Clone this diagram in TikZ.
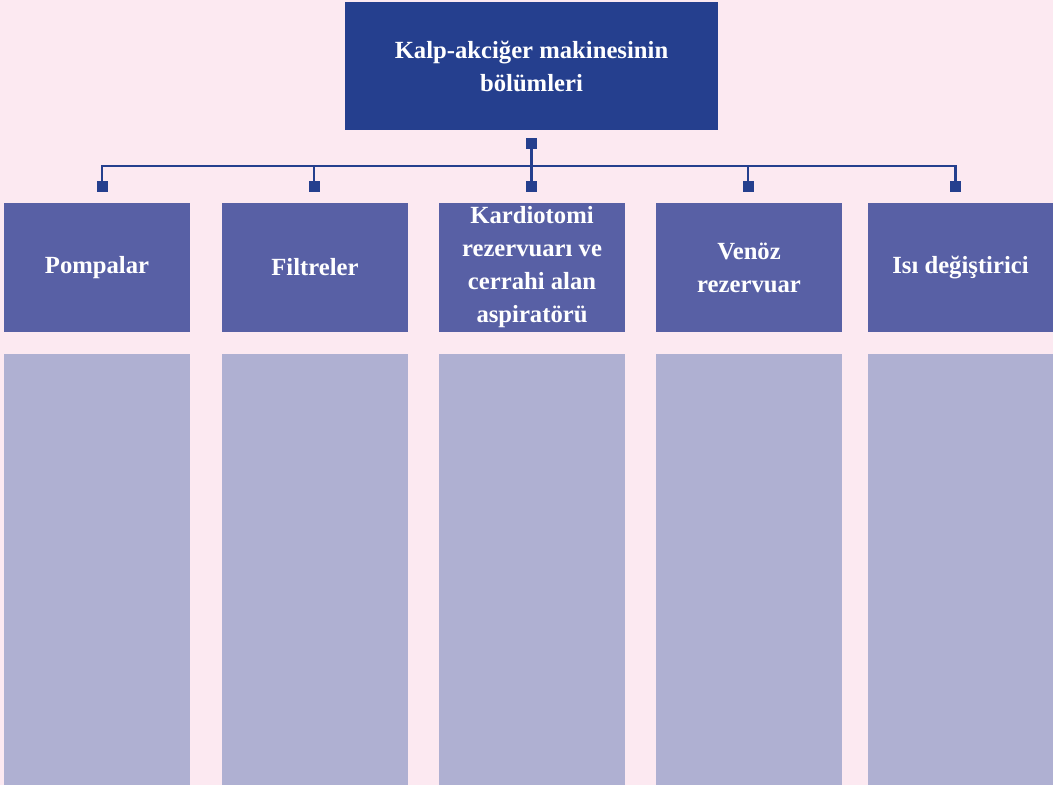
\documentclass[tikz,border=0pt]{standalone}
\usepackage{fontspec}
\setmainfont{Liberation Serif}

\definecolor{zemin}{RGB}{252,233,241}
\definecolor{koyu}{RGB}{37,63,142}
\definecolor{orta}{RGB}{88,96,165}
\definecolor{acik}{RGB}{175,176,210}

\tikzset{
  anakutu/.style={fill=koyu,text=white,minimum width=279.75pt,minimum height=96pt,
    inner sep=0pt,align=center,font=\fontsize{18.5}{24.75}\selectfont\bfseries},
  baslik/.style={fill=orta,text=white,minimum width=139.5pt,minimum height=96.75pt,
    inner sep=0pt,align=center,font=\fontsize{18.5}{24.75}\selectfont\bfseries},
  govde/.style={fill=acik,minimum width=139.5pt,minimum height=323.25pt,inner sep=0pt},
  kare/.style={fill=koyu,minimum size=8.25pt,inner sep=0pt},
  hat/.style={draw=koyu,line width=1.6pt}
}

\begin{document}
\begin{tikzpicture}[x=0.75pt,y=-0.75pt]
                % ===== zemin =====
                \fill[zemin] (0,0) rectangle (1053,785);
                \useasboundingbox (0,0) rectangle (1053,785);

                % ===== ana kutu =====
                \node[anakutu] (ana) at (531.5,66) {Kalp-akciğer makinesinin\\bölümleri};

                % ===== bölümler =====
                \node[baslik] (b1) at (97,267.5) {Pompalar};
                \node[baslik] (b2) at (315,267.5) {Filtreler};
                \node[baslik] (b3) at (532,267.5) {Kardiotomi\\rezervuarı ve\\cerrahi alan\\aspiratörü};
                \node[baslik] (b4) at (749,267.5) {Venöz\\rezervuar};
                \node[baslik] (b5) at (960.5,267.5) {Isı değiştirici};

                % ===== boş sütunlar =====
                \node[govde] (g1) at (97,569.5) {};
                \node[govde] (g2) at (315,569.5) {};
                \node[govde] (g3) at (532,569.5) {};
                \node[govde] (g4) at (749,569.5) {};
                \node[govde] (g5) at (960.5,569.5) {};

                % ===== bağlantılar =====
                \node[kare] (k0) at (531.5,143.5) {};
                \node[kare] (k1) at (102,186.5) {};
                \node[kare] (k2) at (314,186.5) {};
                \node[kare] (k3) at (531.5,186.5) {};
                \node[kare] (k4) at (748,186.5) {};
                \node[kare] (k5) at (955.5,186.5) {};
                \coordinate (ray) at (531.5,166);

                \draw[hat] (k0) -- (k3);
                \draw[hat] (k1) |- (ray) -| (k5);
                \draw[hat] (k2) -- (k2 |- ray);
                \draw[hat] (k4) -- (k4 |- ray);

                \end{tikzpicture}
\end{document}
